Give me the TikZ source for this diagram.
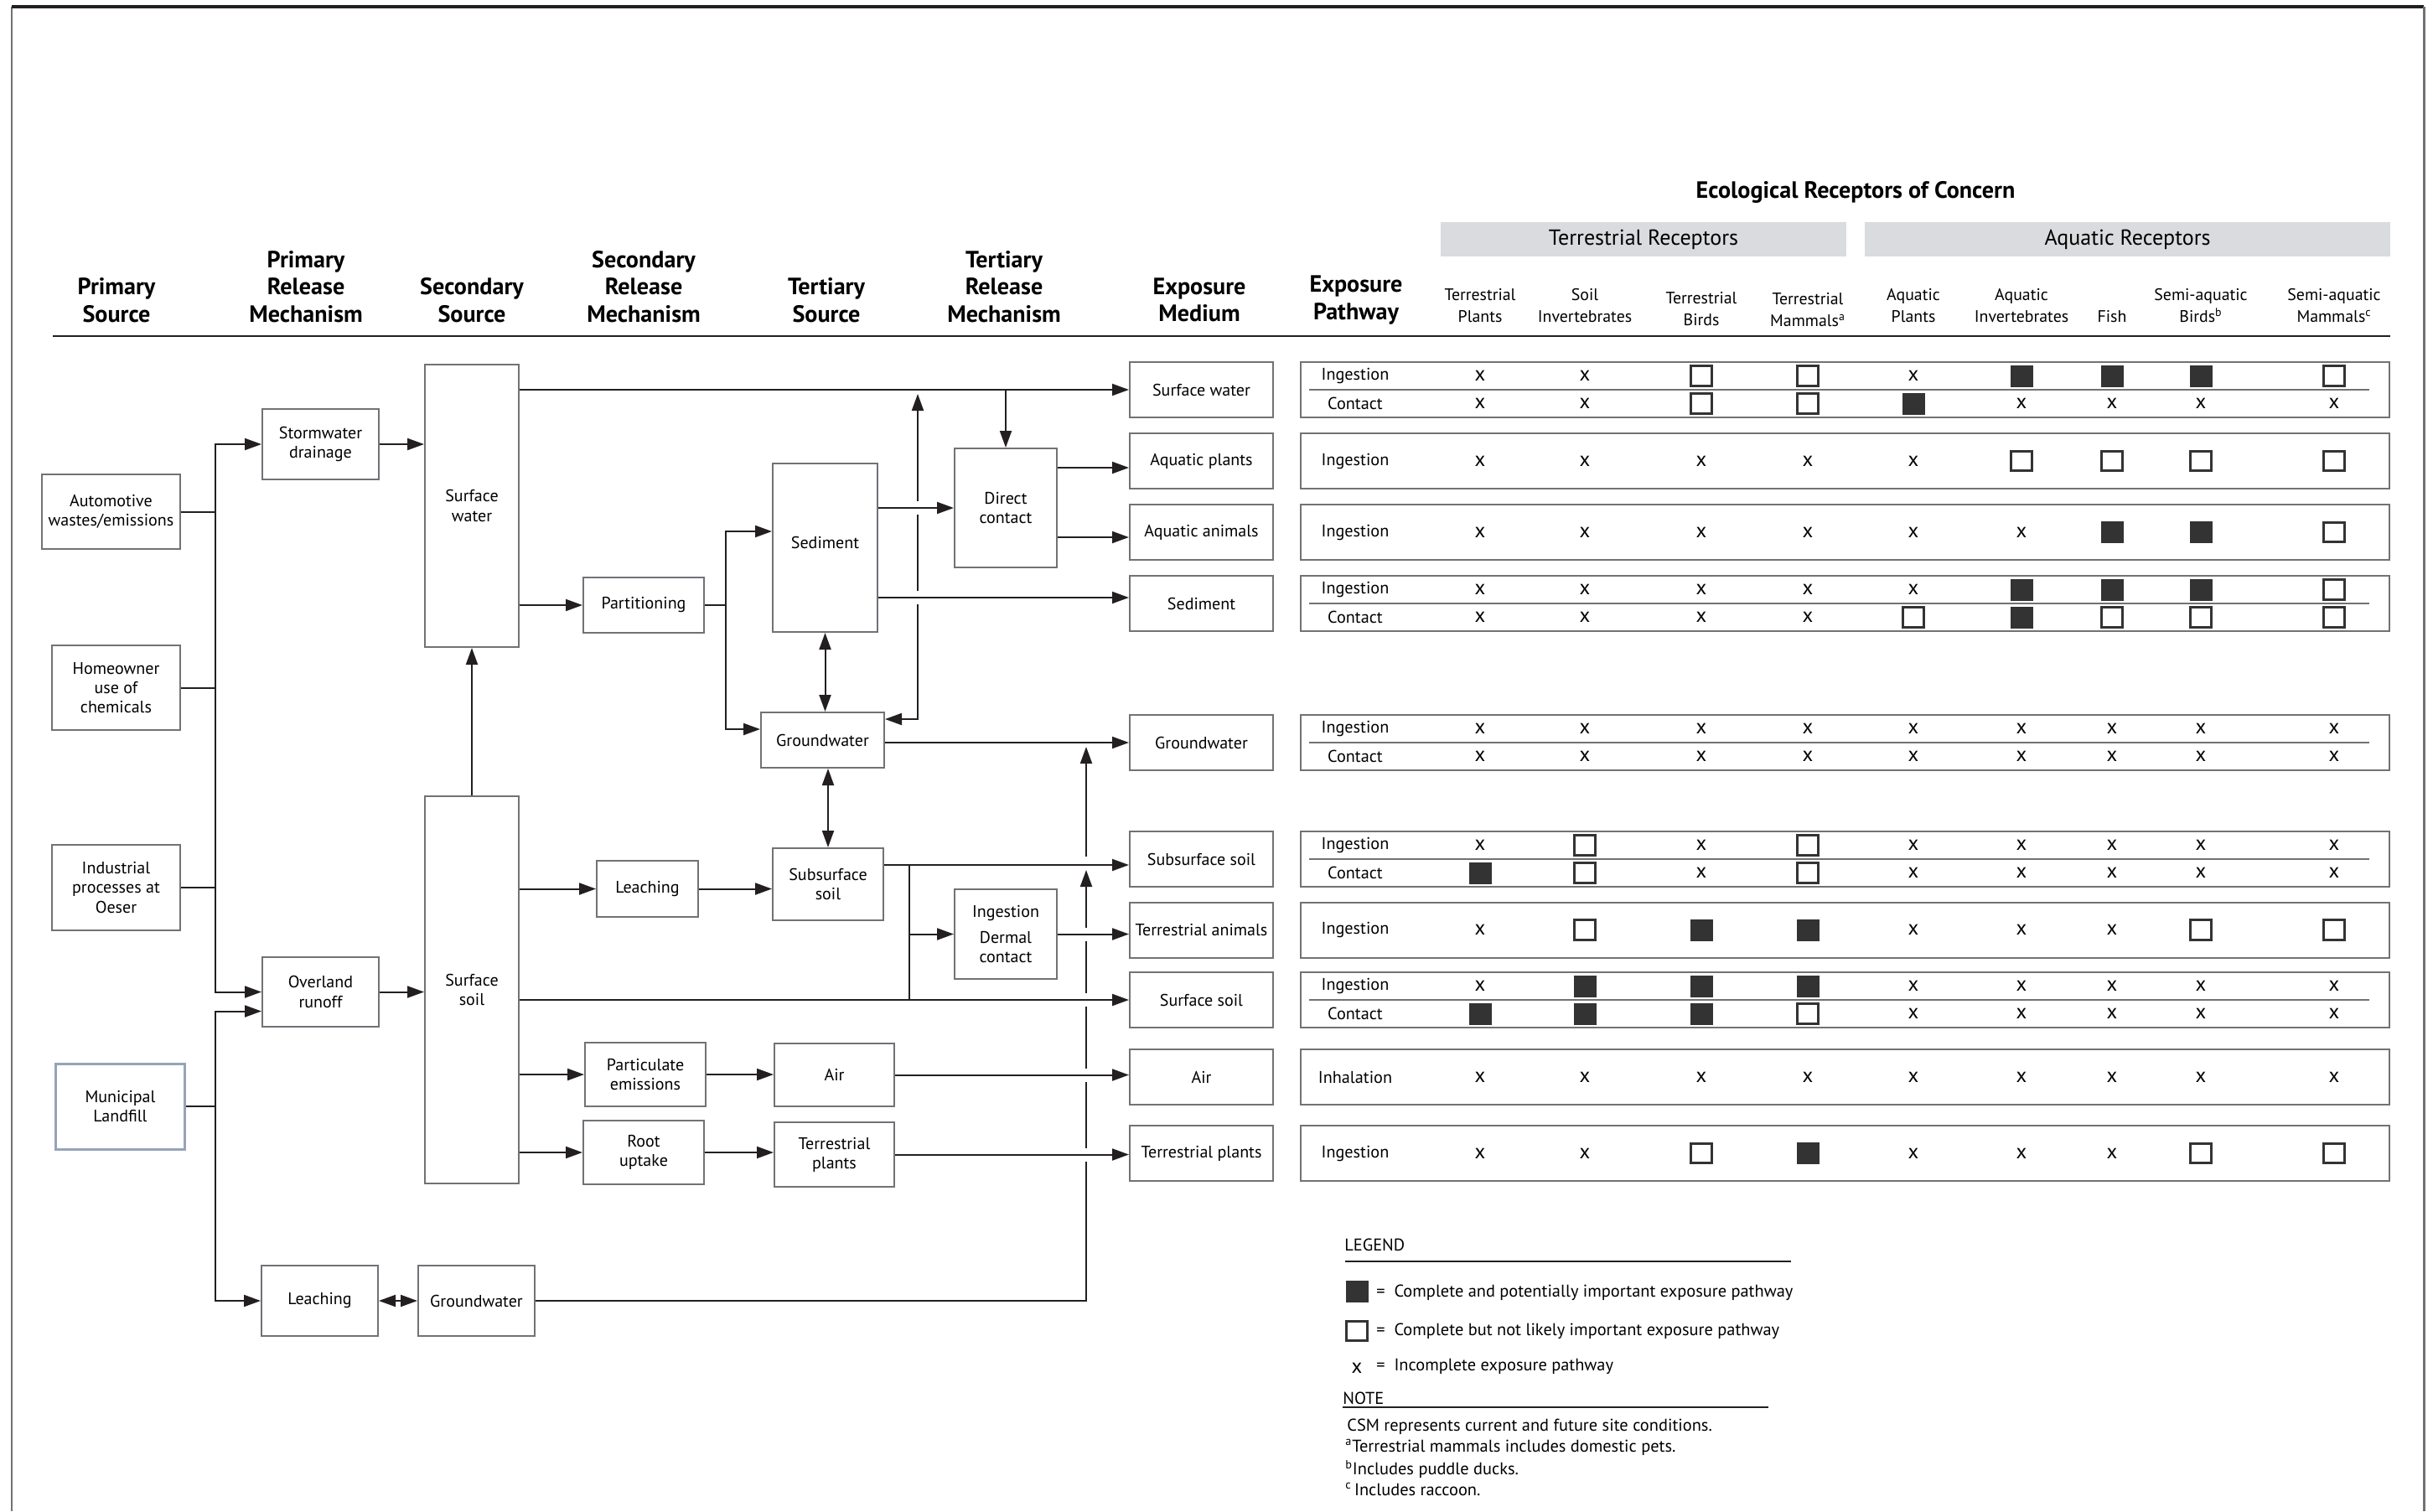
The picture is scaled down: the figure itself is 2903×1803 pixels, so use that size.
\documentclass[tikz,border=0pt]{standalone}
\usepackage{fontspec}
\setmainfont{PT Sans}
\usetikzlibrary{arrows.meta}

\definecolor{boxgray}{RGB}{112,114,118}
\definecolor{inkdark}{RGB}{35,31,32}
\definecolor{bandgray}{RGB}{218,219,222}
\definecolor{fillmark}{RGB}{51,51,51}
\definecolor{landblue}{RGB}{150,163,184}

\begin{document}
\begin{tikzpicture}[x=0.2mm, y=-0.2mm,
        box/.style={draw=boxgray, line width=0.4mm, align=center, inner sep=0.5mm, font=\fontsize{11.4}{13.2}\selectfont},
        med/.style={box, minimum width=34.2mm, minimum height=13.2mm},
        hdr/.style={align=center, font=\fontsize{16}{18.5}\selectfont\bfseries},
        rhdr/.style={align=center, font=\fontsize{11.3}{14.8}\selectfont},
        band/.style={fill=bandgray, minimum height=8.2mm, font=\fontsize{14.8}{16}\selectfont},
        row/.style={draw=boxgray, line width=0.4mm, minimum width=259.8mm, minimum height=13.2mm},
        pathlab/.style={font=\fontsize{11.5}{12}\selectfont},
        legtxt/.style={anchor=west, inner sep=0, font=\fontsize{11.6}{12}\selectfont},
        sym f/.style={fill=fillmark, minimum width=5.4mm, minimum height=5.2mm, inner sep=0, node contents={}},
        sym o/.style={draw=fillmark, fill=white, line width=0.6mm, minimum width=4.9mm, minimum height=4.7mm, inner sep=0, node contents={}},
        sym x/.style={inner sep=0, font=\fontsize{14}{14}\selectfont, node contents={x}},
        link/.style={draw=inkdark, line width=0.4mm},
        flow/.style={link, -{Triangle[length=4mm,width=2.8mm]}},
        flow2/.style={link, {Triangle[length=4mm,width=2.8mm]}-{Triangle[length=4mm,width=2.8mm]}},
        hop/.style={preaction={draw=white, line width=3.2mm, -, shorten <=2mm, shorten >=6mm}}
        ]
    \useasboundingbox (0,0) rectangle (2903,1803);

    % frame and header rule
    \draw[line width=0.3mm, boxgray] (14,1803) -- (14,8);
    \draw[line width=0.7mm, inkdark] (14,8) -- (2892,8);
    \draw[line width=0.6mm, boxgray] (2892,8) -- (2892,1803);
    \draw[line width=0.5mm, inkdark] (63,401) -- (2852,401);

    \node[hdr] (hps) at (139,358) {Primary\\Source};
    \node[hdr] (hprm) at (365,342) {Primary\\Release\\Mechanism};
    \node[hdr] (hss) at (563,358) {Secondary\\Source};
    \node[hdr] (hsrm) at (768,342) {Secondary\\Release\\Mechanism};
    \node[hdr] (hts) at (986,358) {Tertiary\\Source};
    \node[hdr] (htrm) at (1198,342) {Tertiary\\Release\\Mechanism};
    \node[hdr] (hem) at (1431,358) {Exposure\\Medium};
    \node[hdr] (hep) at (1618,358) {Exposure\\Pathway};

    \node[font=\fontsize{16}{18}\selectfont\bfseries] (eco) at (2214,229) {Ecological Receptors of Concern};
    \node[band, minimum width=96.8mm] (terr) at (1961,285.5) {Terrestrial Receptors};
    \node[band, minimum width=125.4mm] (aqua) at (2538.5,285.5) {Aquatic Receptors};
    \foreach \nm/\cx/\cy/\txt in {ctp/1766/365/Terrestrial\\Plants, csi/1891/365/Soil\\Invertebrates,
        ctb/2030/369/Terrestrial\\Birds, ctm/2157/370/Terrestrial\\Mammals\textsuperscript{a},
        cap/2283/365/Aquatic\\Plants, cai/2412/365/Aquatic\\Invertebrates, cfi/2520/378/Fish,
        csab/2626/365/Semi-aquatic\\Birds\textsuperscript{b}, csam/2785/365/Semi-aquatic\\Mammals\textsuperscript{c}}
        \node[rhdr] (\nm) at (\cx,\cy) {\txt};

    % sources and release mechanisms
    \node[box, minimum width=33mm, minimum height=17.8mm] (auto) at (132.5,610.5) {Automotive\\wastes/emissions};
    \node[box, minimum width=30.6mm, minimum height=20.2mm] (home) at (138.5,820.5) {Homeowner\\use of\\chemicals};
    \node[box, minimum width=30.6mm, minimum height=20.4mm] (indus) at (138.5,1059) {Industrial\\processes at\\Oeser};
    \node[box, draw=landblue, line width=0.6mm, minimum width=30.6mm, minimum height=20.4mm] (landfill) at (143.5,1320) {Municipal\\Landfill};
    \node[box, minimum width=27.8mm, minimum height=16.8mm] (storm) at (382.5,530) {Stormwater\\drainage};
    \node[box, minimum width=27.8mm, minimum height=16.6mm] (runoff) at (382.5,1183.5) {Overland\\runoff};
    \node[box, minimum width=27.8mm, minimum height=16.8mm] (leachlf) at (381.5,1552) {Leaching};
    \node[box, minimum width=27.8mm, minimum height=16.8mm] (gwlf) at (568.5,1552) {Groundwater};
    \node[box, minimum width=22.4mm, minimum height=67.4mm] (sw) at (563,603.5) {Surface\\water};
    \node[box, minimum width=22.4mm, minimum height=92.4mm] (ss) at (563,1181) {Surface\\soil};
    \node[box, minimum width=28.8mm, minimum height=13.2mm] (part) at (768,722) {Partitioning};
    \node[box, minimum width=24.2mm, minimum height=13.4mm] (leach) at (772.5,1060.5) {Leaching};
    \node[box, minimum width=28.8mm, minimum height=15.2mm] (pemis) at (770,1282) {Particulate\\emissions};
    \node[box, minimum width=28.8mm, minimum height=15.2mm] (root) at (768,1375) {Root\\uptake};
    \node[box, minimum width=25mm, minimum height=40.2mm] (sed) at (984.5,653.5) {\raisebox{2.4mm}{Sediment}};
    \node[box, minimum width=29.4mm, minimum height=13.2mm] (gw) at (981.5,883) {Groundwater};
    \node[box, minimum width=26.4mm, minimum height=17.2mm] (sub) at (988,1055) {Subsurface\\soil};
    \node[box, minimum width=28.6mm, minimum height=15mm] (air) at (995.5,1282.5) {Air};
    \node[box, minimum width=28.6mm, minimum height=15.4mm] (tplant) at (995.5,1377.5) {Terrestrial\\plants};
    \node[box, minimum width=24.4mm, minimum height=28.4mm] (dc) at (1200,606) {Direct\\contact};
    \node[box, minimum width=24.4mm, minimum height=21.4mm] (ingdc) at (1200,1114.5) {Ingestion\\[1.6mm]Dermal\\contact};

    % exposure media
    \foreach \nm/\yy/\txt in {msw/465/Surface water, maplant/550/Aquatic plants, maanim/635/Aquatic animals,
        msed/720/Sediment, mgw/886/Groundwater, msub/1025/Subsurface soil, mtanim/1109.5/Terrestrial animals,
        mss/1193/Surface soil, mair/1285/Air, mtplant/1376/Terrestrial plants}
        \node[med] (\nm) at (1433.5,\yy) {\txt};

    % receptor table
    \foreach \nm/\yy in {t1/465, t2/550, t3/635, t4/720, t5/886, t6/1025, t7/1109.5, t8/1193, t9/1285, t10/1376}
        \node[row] (\nm) at (2201.5,\yy) {};
    \foreach \nm in {t1,t4,t5,t6,t8}
        \draw[line width=0.3mm, boxgray] ([xshift=2.2mm]\nm.west) -- ([xshift=-5mm]\nm.east);
    \foreach \nm/\yy/\txt in {l1a/448.5/Ingestion, l1b/481.5/Contact, l2/550/Ingestion, l3/635/Ingestion,
        l4a/703.5/Ingestion, l4b/736.5/Contact, l5a/869.5/Ingestion, l5b/902.5/Contact,
        l6a/1008.5/Ingestion, l6b/1041.5/Contact, l7/1109.5/Ingestion, l8a/1176.5/Ingestion,
        l8b/1209.5/Contact, l9/1285/Inhalation, l10/1376/Ingestion}
        \node[pathlab] (\nm) at (1617,\yy) {\txt};
    \foreach \rid/\yy/\marks in {
        r1a/448.5/{x,x,o,o,x,f,f,f,o}, r1b/481.5/{x,x,o,o,f,x,x,x,x},
        r2/550/{x,x,x,x,x,o,o,o,o}, r3/635/{x,x,x,x,x,x,f,f,o},
        r4a/703.5/{x,x,x,x,x,f,f,f,o}, r4b/736.5/{x,x,x,x,o,f,o,o,o},
        r5a/869.5/{x,x,x,x,x,x,x,x,x}, r5b/902.5/{x,x,x,x,x,x,x,x,x},
        r6a/1008.5/{x,o,x,o,x,x,x,x,x}, r6b/1041.5/{f,o,x,o,x,x,x,x,x},
        r7/1109.5/{x,o,f,f,x,x,x,o,o},
        r8a/1176.5/{x,f,f,f,x,x,x,x,x}, r8b/1209.5/{f,f,f,o,x,x,x,x,x},
        r9/1285/{x,x,x,x,x,x,x,x,x}, r10/1376/{x,x,o,f,x,x,x,o,o}}
        {\foreach \m [count=\c] in \marks {
            \pgfmathsetmacro\cx{{1766,1891,2030,2157,2283,2412,2520,2626,2785}[\c-1]}
            \node[sym \m, name=\rid-\c, at={(\cx,\yy)}];
        }}

    % left trunks
    \coordinate (trunk) at (257,0);
    \draw[link] (auto.east) -- (auto.east -| trunk);
    \draw[link] (home.east) -- (home.east -| trunk);
    \draw[link] (indus.east) -- (indus.east -| trunk);
    \draw[flow2] (runoff.west) -| (storm.west -| trunk) -- (storm.west);
    \draw[link] (landfill.east) -- (landfill.east -| trunk);
    \draw[flow2] ([yshift=-4.6mm]runoff.west) -| (leachlf.west -| trunk) -- (leachlf.west);

    \draw[flow] (storm.east) -- (storm.east -| sw.west);
    \draw[flow] (runoff.east) -- (runoff.east -| ss.west);
    \draw[flow] (ss.north) -- (sw.south);
    \draw[flow2] (leachlf.east) -- (gwlf.west);

    \draw[flow] (sw.east |- msw.west) -- (msw.west);
    \draw[flow] (dc.north |- msw.west) -- (dc.north);
    \draw[flow] (sw.east |- part.west) -- (part.west);
    \coordinate (split) at (866,722);
    \draw[link] (part.east) -- (split);
    \draw[flow2] ([yshift=3.9mm]sed.west) -| (split) |- ([yshift=2.6mm]gw.west);
    \draw[flow2] (sed.south) -- (sed.south |- gw.north);
    \draw[flow2] (sub.north |- gw.south) -- (sub.north);

    \coordinate (swgw) at (1095,470);
    \draw[flow2] (swgw) |- ([yshift=5mm]gw.east);
    \coordinate (rise) at (1296,1038);
    \coordinate (rise2) at (1296,1022);
    \draw[flow] (gwlf.east) -| (rise);
    \draw[flow] (rise2) -- ([yshift=-1mm]mgw.west -| rise2);

    % lines that hop over the risers
    \draw[flow, hop] (sed.east |- dc.west) -- (dc.west);
    \draw[flow, hop] ([yshift=1.4mm]msed.west -| sed.east) -- ([yshift=1.4mm]msed.west);
    \draw[flow, hop] (ingdc.east) -- (ingdc.east -| mtanim.west);
    \draw[flow, hop] (ss.east |- mss.west) -- (mss.west);
    \draw[flow, hop] (air.east) -- (air.east -| mair.west);
    \draw[flow, hop] (tplant.east) -- (tplant.east -| mtplant.west);

    \draw[flow] ([yshift=-1.6mm]maplant.west -| dc.east) -- ([yshift=-1.6mm]maplant.west);
    \draw[flow] ([yshift=-1.2mm]maanim.west -| dc.east) -- ([yshift=-1.2mm]maanim.west);
    \draw[flow] (gw.east |- mgw.west) -- (mgw.west);
    \draw[flow] (ss.east |- leach.west) -- (leach.west);
    \draw[flow] (leach.east) -- (leach.east -| sub.west);
    \draw[flow] ([yshift=-1.4mm]msub.west -| sub.east) -- ([yshift=-1.4mm]msub.west);
    \coordinate (branch) at (1085,0);
    \draw[link] ([yshift=-1.4mm]msub.west -| branch) -- (mss.west -| branch);
    \draw[flow] (ingdc.west -| branch) -- (ingdc.west);
    \draw[flow] (ss.east |- pemis.west) -- (pemis.west);
    \draw[flow] (pemis.east) -- (pemis.east -| air.west);
    \draw[flow] (ss.east |- root.west) -- (root.west);
    \draw[flow] (root.east) -- (root.east -| tplant.west);

    % legend and notes
    \node[legtxt] (leg) at (1604,1485) {LEGEND};
    \draw[line width=0.3mm, inkdark] (1605,1505) -- (2137,1505);
    \node[sym f, name=lgf, at={(1619,1541)}];
    \node[legtxt] (lgft) at (1642,1542) {= \ Complete and potentially important exposure pathway};
    \node[sym o, name=lgo, at={(1619,1588)}];
    \node[legtxt] (lgot) at (1642,1588) {= \ Complete but not likely important exposure pathway};
    \node[sym x, name=lgx, at={(1619,1632)}];
    \node[legtxt] (lgxt) at (1642,1630) {= \ Incomplete exposure pathway};
    \node[legtxt] (note) at (1602,1668) {NOTE};
    \draw[line width=0.3mm, inkdark] (1602,1679) -- (2110,1679);
    \node[legtxt] (n0) at (1607,1702) {CSM represents current and future site conditions.};
    \node[legtxt] (n1) at (1605,1727) {\textsuperscript{a}Terrestrial mammals includes domestic pets.};
    \node[legtxt] (n2) at (1605,1753) {\textsuperscript{b}Includes puddle ducks.};
    \node[legtxt] (n3) at (1605,1777) {\textsuperscript{c}\,Includes raccoon.};

\end{tikzpicture}
\end{document}
